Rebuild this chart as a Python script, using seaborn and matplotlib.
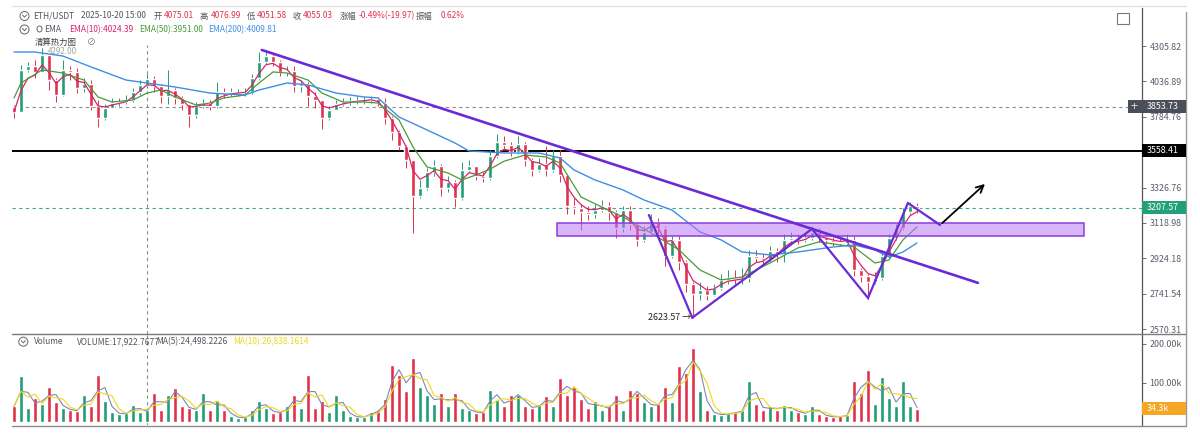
import numpy as np
import pandas as pd
import matplotlib
matplotlib.use("Agg")
import matplotlib.pyplot as plt
import matplotlib.patches as mpatches
from matplotlib.lines import Line2D
from matplotlib.ticker import FixedLocator, NullLocator
import seaborn as sns

# ---- data (one candle ~ 7px of the original) ----
close = [3818, 4122, 4152, 4107, 4236, 4047, 3938, 4122, 4107, 3989,
         4018, 3860, 3777, 3846, 3881, 3888, 3902, 3960, 4011, 4055.03,
         4004, 3931, 3974, 3917, 3874, 3797, 3860, 3881, 3860, 3960,
         3952, 3960, 3960, 3960, 4062, 4182, 4228, 4182, 4107, 4114,
         4004, 4018, 3931, 3902, 3777, 3832, 3874, 3888, 3895, 3902,
         3902, 3910, 3881, 3777, 3681, 3588, 3498, 3276, 3324, 3423,
         3460, 3324, 3360, 3264, 3435, 3460, 3398, 3386, 3524, 3615,
         3595, 3549, 3601, 3498, 3435, 3472, 3435, 3524, 3404, 3216,
         3205, 3181, 3170, 3193, 3216, 3181, 3090, 3193, 3113, 3024,
         3068, 3124, 3090, 2936, 3024, 2904, 2790, 2740, 2760, 2735,
         2770, 2811, 2821, 2816, 2821, 2936, 2926, 2915, 2964, 2947,
         3024, 3035, 3024, 3035, 3068, 3040, 3024, 3013, 3007, 3024,
         2862, 2832, 2801, 2821, 2936, 3035, 3090, 3181, 3216, 3207.57]

high = [3867, 4160, 4182, 4197, 4290, 4236, 4062, 4197, 4152, 4137,
        4062, 4047, 3902, 3874, 3917, 3917, 3938, 3989, 4047, 4090,
        4077, 4018, 4122, 3989, 3931, 3874, 3888, 3910, 3902, 4032,
        3989, 3989, 3982, 3989, 4092, 4259, 4275, 4244, 4197, 4152,
        4152, 4047, 4032, 3960, 3902, 3860, 3902, 3917, 3924, 3931,
        3924, 3931, 3924, 3917, 3790, 3695, 3595, 3498, 3373, 3447,
        3498, 3472, 3398, 3373, 3485, 3498, 3460, 3423, 3562, 3668,
        3655, 3615, 3655, 3615, 3511, 3511, 3588, 3562, 3562, 3410,
        3264, 3228, 3216, 3228, 3252, 3240, 3193, 3216, 3216, 3124,
        3101, 3170, 3147, 3101, 3046, 3046, 2915, 2801, 2801, 2780,
        2790, 2842, 2862, 2862, 2872, 2969, 2969, 2947, 2991, 2980,
        3057, 3068, 3057, 3057, 3101, 3090, 3051, 3040, 3035, 3057,
        3046, 2872, 2842, 2852, 2969, 3057, 3113, 3205, 3240, 3232]

low = [3777, 3818, 4107, 4062, 4107, 3974, 3888, 3931, 4047, 3952,
       3960, 3832, 3715, 3763, 3846, 3860, 3874, 3888, 3938, 3989,
       3960, 3881, 3874, 3874, 3832, 3715, 3777, 3846, 3832, 3846,
       3917, 3931, 3931, 3931, 3945, 4047, 4167, 4152, 4077, 4077,
       3960, 3960, 3860, 3846, 3702, 3763, 3832, 3860, 3867, 3874,
       3874, 3881, 3860, 3735, 3628, 3562, 3447, 3062, 3264, 3310,
       3398, 3276, 3300, 3210, 3252, 3423, 3373, 3360, 3373, 3511,
       3562, 3524, 3536, 3460, 3398, 3423, 3398, 3423, 3360, 3170,
       3170, 3079, 3136, 3147, 3181, 3136, 3035, 3068, 3079, 2991,
       3013, 3057, 3057, 2883, 2926, 2862, 2750, 2623.57, 2710, 2710,
       2730, 2760, 2790, 2790, 2790, 2801, 2904, 2894, 2904, 2904,
       2904, 3002, 3002, 3013, 3024, 3013, 3002, 2991, 2991, 2996,
       2832, 2801, 2715, 2790, 2811, 2926, 3024, 3079, 3170, 3175]

first_open = 3850

volume_k = [40, 117, 35, 62, 45, 91, 50, 35, 30, 28,
            70, 40, 121, 55, 25, 20, 22, 44, 25, 30,
            74, 30, 70, 87, 40, 35, 30, 74, 30, 57,
            30, 15, 10, 12, 30, 53, 35, 22, 25, 40,
            70, 35, 121, 35, 53, 25, 70, 30, 15, 12,
            14, 25, 30, 60, 147, 121, 80, 164, 90, 70,
            45, 74, 40, 74, 35, 30, 22, 25, 83, 57,
            40, 70, 70, 40, 35, 45, 66, 40, 113, 70,
            89, 60, 35, 53, 30, 40, 70, 30, 83, 74,
            50, 40, 45, 91, 50, 143, 126, 190, 79, 30,
            20, 18, 22, 25, 30, 106, 45, 30, 40, 30,
            44, 30, 25, 20, 40, 20, 15, 12, 15, 18,
            104, 74, 134, 45, 115, 62, 40, 106, 40, 34.3]

# EMA(50) / EMA(200)
ema50_idx = [0, 1, 4, 7, 10, 12, 14, 17, 19, 21, 23, 26, 28, 30, 33, 35, 37, 39, 42, 44,
             47, 50, 52, 55, 57, 59, 62, 64, 66, 68, 70, 73, 76, 78, 81, 84, 87, 89, 91, 95,
             98, 101, 104, 108, 112, 115, 118, 120, 123, 125, 127, 129]
ema50_val = [3917, 4025, 4122, 4099, 4047, 3924, 3888, 3902, 3952, 3974, 3924, 3867, 3881, 3917, 3938, 4025, 4107, 4099, 4047, 3952,
             3888, 3888, 3881, 3763, 3582, 3454, 3416, 3373, 3404, 3440, 3490, 3530, 3517, 3479, 3270, 3210, 3153, 3107, 3062, 2969,
             2862, 2811, 2826, 2899, 2980, 3013, 2996, 2985, 2899, 2915, 3024, 3096]
ema200_idx = [0, 3, 7, 11, 16, 19, 23, 28, 33, 35, 39, 42, 46, 50, 52, 55, 59, 63, 65, 70,
              75, 78, 80, 83, 87, 90, 94, 98, 101, 104, 108, 112, 117, 120, 123, 125, 127, 129]
ema200_val = [4259, 4259, 4228, 4145, 4047, 4025, 3996, 3952, 3938, 3974, 4025, 4011, 3952, 3924, 3917, 3783, 3695, 3608, 3556, 3543,
              3543, 3511, 3435, 3373, 3312, 3252, 3193, 3068, 3024, 2958, 2942, 2958, 2985, 2996, 2969, 2931, 2958, 3007]

price_ticks = [4305.82, 4036.89, 3784.76, 3326.76, 3118.98, 2924.18, 2741.54, 2570.31]
vol_ticks = [100, 200]

crosshair_idx = 19
crosshair_price = 3853.73
resistance = 3558.41
last_price = 3207.57
last_volume_k = 34.3
low_price = 2623.57

# hand-drawn annotations (candle index, price)
trend_idx = [35.4, 137.7]
trend_val = [4275, 2796]
zone_idx = [77.6, 152.9]
zone_val = [3046, 3119]
w_idx = [90.7, 96.9, 114.0, 122.0, 127.7, 132.3]
w_val = [3164, 2624, 3085, 2720, 3234, 3107]
arrow_idx = [132.3, 139.0]
arrow_val = [3107, 3360]

# ---- colours ----
UP = "#1f9d73"
DOWN = "#e0314b"
GREY = "#50555f"
PINK = "#d6246e"
EMA50_C = "#4a9a38"
EMA200_C = "#3f8de6"
PURPLE = "#6a2bd6"
YELLOW = "#f0d81c"
HEAD = 6.0

sns.set_style("white")
plt.rcParams["font.family"] = ["Noto Sans CJK SC", "DejaVu Sans"]

df = pd.DataFrame({"close": close, "high": high, "low": low, "vol": volume_k})
df["idx"] = np.arange(len(df))
df["open"] = df["close"].shift(1).fillna(first_open)
df["ema10"] = df["close"].ewm(span=3, adjust=False).mean()
df["ma5"] = df["vol"].rolling(2, min_periods=1).mean()
df["ma10"] = df["vol"].rolling(3, min_periods=1).mean()
cols = np.where(df["close"] >= df["open"], UP, DOWN)

W, H = 1200, 440
fig = plt.figure(figsize=(12, 4.4), dpi=100)


def box(x0, y0, x1, y1):
    return [x0 / W, 1 - y1 / H, (x1 - x0) / W, (y1 - y0) / H]


ax = fig.add_axes(box(12, 8, 1142, 334))
axv = fig.add_axes(box(12, 334, 1142, 425), sharex=ax)

# ---- price panel ----
ax.set_yscale("log")
ax.set_ylim(2547, 4615)
ax.set_xlim(-0.286, 161.14)

body_lo = np.minimum(df["open"], df["close"])
body_h = np.maximum(np.abs(df["close"] - df["open"]), 1.5)
ax.vlines(df["idx"], df["low"], df["high"], colors=cols, lw=0.7, zorder=2)
ax.bar(df["idx"], body_h, bottom=body_lo, width=0.55, color=cols, zorder=2)

sns.lineplot(x=df["idx"], y=df["ema10"], ax=ax, color=PINK, lw=0.9, zorder=3)
sns.lineplot(x=ema50_idx, y=ema50_val, ax=ax, color=EMA50_C, lw=0.9, zorder=3)
sns.lineplot(x=ema200_idx, y=ema200_val, ax=ax, color=EMA200_C, lw=1.0, zorder=3)

ax.axhline(resistance, color="black", lw=1.4, zorder=1)
ax.axhline(crosshair_price, color="#8c8c8c", lw=0.8, ls=(0, (3, 3)), zorder=1)
ax.axhline(last_price, color="#3aa88a", lw=0.8, ls=(0, (3, 3)), zorder=1)
ax.axvline(crosshair_idx, ymax=0.886, color="#8c8c8c", lw=0.8, ls=(0, (3, 3)), zorder=1)

zone = mpatches.Rectangle((zone_idx[0], zone_val[0]), zone_idx[1] - zone_idx[0], zone_val[1] - zone_val[0],
                          facecolor=(0.74, 0.47, 0.96, 0.55), edgecolor="#8a3ee0", lw=1.1, zorder=4)
ax.add_patch(zone)
ax.plot(trend_idx, trend_val, color=PURPLE, lw=1.9, zorder=5, solid_capstyle="round")
ax.plot(w_idx, w_val, color=PURPLE, lw=1.6, zorder=5, solid_joinstyle="miter")
ax.annotate("", xy=(arrow_idx[1], arrow_val[1]), xytext=(arrow_idx[0], arrow_val[0]),
            arrowprops=dict(arrowstyle="->", color="black", lw=1.3, mutation_scale=13), zorder=6)
ax.text(96.75, low_price, "2623.57 →", ha="right", va="center", fontsize=6.4, color="#222222", zorder=6)

ax.yaxis.tick_right()
ax.yaxis.set_major_locator(FixedLocator(price_ticks))
ax.yaxis.set_minor_locator(NullLocator())
ax.set_yticklabels([f"{v:.2f}" for v in price_ticks])
ax.tick_params(axis="y", which="major", length=3, width=0.6, color="#555555",
               labelsize=6.4, labelcolor="#5b5f6b", pad=2.5)
ax.tick_params(axis="x", bottom=False, labelbottom=False)
ax.set_xlabel("")
ax.set_ylabel("")
for s in ["top", "left", "bottom"]:
    ax.spines[s].set_visible(False)
ax.spines["right"].set_color("#555555")
ax.spines["right"].set_linewidth(0.9)

# ---- volume panel ----
axv.bar(df["idx"], df["vol"], width=0.7, color=cols, zorder=2)
sns.lineplot(x=df["idx"], y=df["ma5"], ax=axv, color="#7f88b8", lw=0.8, zorder=3)
sns.lineplot(x=df["idx"], y=df["ma10"], ax=axv, color=YELLOW, lw=0.8, zorder=3)
axv.axvline(crosshair_idx, color="#8c8c8c", lw=0.8, ls=(0, (3, 3)), zorder=1)
axv.set_ylim(-7.7, 225.6)
axv.yaxis.tick_right()
axv.set_yticks(vol_ticks)
axv.set_yticklabels([f"{v:.2f}k" for v in vol_ticks])
axv.tick_params(axis="y", length=3, width=0.6, color="#555555", labelsize=6.4, labelcolor="#5b5f6b", pad=2.5)
axv.tick_params(axis="x", bottom=False, labelbottom=False)
axv.set_xlabel("")
axv.set_ylabel("")
for s in ["top", "left", "bottom"]:
    axv.spines[s].set_visible(False)
axv.spines["right"].set_color("#555555")
axv.spines["right"].set_linewidth(0.9)

# ---- frame lines ----
fig.add_artist(Line2D([12 / W, 1186 / W], [1 - 334 / H, 1 - 334 / H], color="#7a7a7a", lw=1.0))
fig.add_artist(Line2D([12 / W, 1186 / W], [1 - 426 / H, 1 - 426 / H], color="#8a8a8a", lw=1.0))
fig.add_artist(Line2D([1186 / W, 1186 / W], [1 - 12 / H, 1 - 426 / H], color="#9a9a9a", lw=1.0))
fig.add_artist(Line2D([12 / W, 1186 / W], [1 - 6 / H, 1 - 6 / H], color="#e2e2e2", lw=1.0))


# ---- right-axis value tags ----
def axis_tag(axis, value, label, face, left=1142, right=1186, plus=False):
    yd = axis.transData.transform((0, value))[1]
    fig.add_artist(mpatches.Rectangle((left / W, (yd - 6.5) / H), (right - left) / W, 13 / H,
                                      transform=fig.transFigure, facecolor=face, edgecolor="none", zorder=6))
    fig.text(1147 / W, yd / H, label, color="white", fontsize=6.4, ha="left", va="center", zorder=7)
    if plus:
        fig.text(1134 / W, yd / H, "+", color="#d8d8d8", fontsize=9, ha="center", va="center", zorder=7)


axis_tag(ax, crosshair_price, "3853.73", "#4b4f5a", left=1128, plus=True)
axis_tag(ax, resistance, "3558.41", "#000000")
axis_tag(ax, last_price, "3207.57", "#22a07a")
axis_tag(axv, last_volume_k, "34.3k", "#f5a623")


# ---- header texts ----
def ftxt(x, y, s, color, size=HEAD, **kw):
    fig.text(x / W, 1 - y / H, s, color=color, fontsize=size, ha="left", va="center", **kw)


def chevron(x, y):
    fig.add_artist(mpatches.Ellipse((x / W, 1 - y / H), 9 / W, 9 / H, transform=fig.transFigure,
                                    facecolor="none", edgecolor="#666666", lw=0.7))
    fig.add_artist(Line2D([(x - 2) / W, x / W, (x + 2) / W],
                          [1 - (y - 1) / H, 1 - (y + 1.2) / H, 1 - (y - 1) / H], color="#666666", lw=0.7))


chevron(24.5, 16)
line1 = [(33.6, "ETH/USDT", GREY), (80.7, "2025-10-20 15:00", GREY), (153.7, "开", GREY),
         (164, "4075.01", DOWN), (200, "高", GREY), (210.7, "4076.99", DOWN), (246.7, "低", GREY),
         (257, "4051.58", DOWN), (293, "收", GREY), (303, "4055.03", DOWN), (340, "涨幅", GREY),
         (359, "-0.49%(-19.97)", DOWN), (416, "振幅", GREY), (440.6, "0.62%", DOWN)]
for x, s, c in line1:
    ftxt(x, 16, s, c)

chevron(24.5, 29.5)
fig.add_artist(mpatches.Ellipse((39.5 / W, 1 - 29 / H), 5 / W, 6 / H, transform=fig.transFigure,
                                facecolor="none", edgecolor="#666666", lw=0.7))
line2 = [(44, "EMA", GREY), (69.4, "EMA(10):4024.39", PINK), (139, "EMA(50):3951.00", EMA50_C),
         (208.6, "EMA(200):4009.81", EMA200_C)]
for x, s, c in line2:
    ftxt(x, 29.5, s, c)

ftxt(48, 51.5, "4292.00", "#a0a0a0", size=5.8)
ftxt(34.7, 42.5, "清算热力图", "#3a3d45")
ftxt(87, 42.5, "⊘", "#777777", size=6.5)

chevron(23.3, 341.7)
line_v = [(34, "Volume", GREY), (76.7, "VOLUME:17,922.7677", GREY), (156, "MA(5):24,498.2226", GREY),
          (232.7, "MA(10):20,838.1614", YELLOW)]
for x, s, c in line_v:
    ftxt(x, 341.7, s, c)

# fullscreen icon
fig.add_artist(mpatches.Rectangle((1117 / W, 1 - 24 / H), 12 / W, 11 / H, transform=fig.transFigure,
                                  facecolor="none", edgecolor="#777777", lw=0.8))

fig.savefig("out.png", dpi=100, facecolor="white")
